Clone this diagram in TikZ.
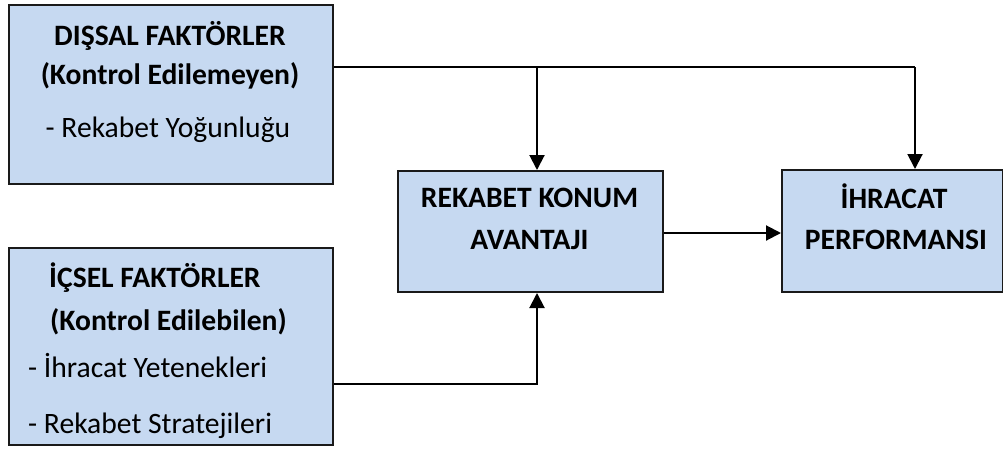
\documentclass[tikz,border=0pt]{standalone}
\usepackage{fontspec}
\setmainfont{Carlito}
\usetikzlibrary{arrows.meta}
\definecolor{boxfill}{HTML}{C6D9F1}
\definecolor{boxline}{HTML}{1A1A1A}
\begin{document}
\begin{tikzpicture}[x=1pt,y=-1pt,
  panel/.style={draw=boxline,fill=boxfill,line width=2pt},
  txt/.style={anchor=base,inner sep=0pt,font=\fontsize{29.6}{34}\selectfont},
  btxt/.style={txt,font=\fontsize{29.6}{34}\selectfont\bfseries},
  link/.style={draw=black,line width=2pt},
  arr/.style={link,-{Triangle[width=15pt,length=15pt]}}]
\useasboundingbox (0,0) rectangle (1003,455);

% boxes
\node[panel,minimum width=324pt,minimum height=179pt,anchor=north west] (ext) at (8,4) {};
\node[panel,minimum width=324pt,minimum height=197pt,anchor=north west] (int) at (8,247) {};
\node[panel,minimum width=265pt,minimum height=121pt,anchor=north west] (adv) at (397,170) {};
\node[panel,minimum width=221pt,minimum height=122pt,anchor=north west] (perf) at (781,169) {};

% external factors
\node[btxt] (e1) at (170,45) {DIŞSAL FAKTÖRLER};
\node[btxt] (e2) at (170,84) {(Kontrol Edilemeyen)};
\node[txt] (e3) at (168,137) {- Rekabet Yoğunluğu};

% internal factors
\node[btxt,anchor=base west] (i1) at (49,287) {İÇSEL FAKTÖRLER};
\node[btxt,anchor=base west] (i2) at (50,330) {(Kontrol Edilebilen)};
\node[txt,anchor=base west] (i3) at (28,377) {- İhracat Yetenekleri};
\node[txt,anchor=base west] (i4) at (28,433) {- Rekabet Stratejileri};

% competitive position advantage
\node[btxt] (a1) at (529.5,207) {REKABET KONUM};
\node[btxt] (a2) at (529.5,249) {AVANTAJI};

% export performance
\node[btxt] (p1) at (894,208) {İHRACAT};
\node[btxt] (p2) at (896,249) {PERFORMANSI};

% connectors
\coordinate (top) at (537,67);
\coordinate (topr) at (915,67);
\coordinate (bot) at (537,384);
\draw[link] (ext.east |- top) -- (topr);
\draw[arr] (top) -- (top |- adv.north);
\draw[arr] (topr) -- (topr |- perf.north);
\draw[arr] (int.east |- bot) -- (bot) -- (bot |- adv.south);
\draw[arr] (adv.east |- 0,233) -- (perf.west |- 0,233);
\end{tikzpicture}
\end{document}
